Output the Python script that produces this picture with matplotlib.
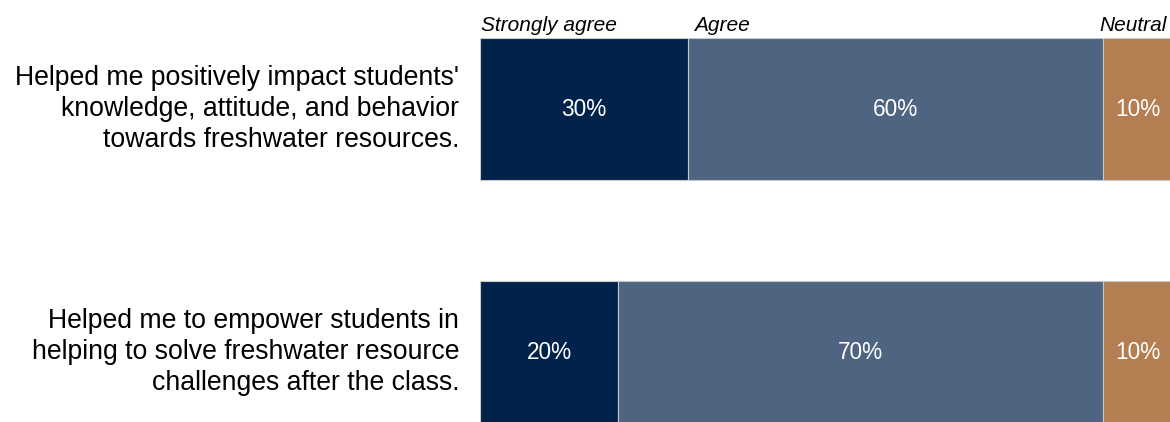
import numpy as np
import matplotlib.pyplot as plt
from matplotlib import font_manager

# Use the regular (not narrow) Liberation Sans files, the closest to Arial.
regular = None
italic = None
for f in font_manager.findSystemFonts():
    name = f.split("/")[-1]
    if name == "LiberationSans-Regular.ttf":
        regular = f
    elif name == "LiberationSans-Italic.ttf":
        italic = f

def font(size, italic_style=False):
    path = italic if italic_style else regular
    if path is None:
        return font_manager.FontProperties(family="DejaVu Sans", size=size, style="italic" if italic_style else "normal")
    return font_manager.FontProperties(fname=path, size=size)

# Survey statements and the share of answers in each category.
statements = [
    "Helped me positively impact students'\nknowledge, attitude, and behavior\ntowards freshwater resources.",
    "Helped me to empower students in\nhelping to solve freshwater resource\nchallenges after the class.",
]
categories = ["Strongly agree", "Agree", "Neutral"]
strongly_agree = [0.30, 0.20]
agree = [0.60, 0.70]
neutral = [0.10, 0.10]
colors = ["#01224A", "#4E6481", "#B37E51"]

fig = plt.figure(figsize=(11.7, 4.22), dpi=100)
ax = fig.add_axes([480 / 1170, 0, 692 / 1170, 384 / 422])

y = np.arange(len(statements))
left = np.zeros(len(statements))

# Stack the three answer categories along each bar.
for values, color in zip([strongly_agree, agree, neutral], colors):
    values = np.array(values)
    ax.barh(y, values, left=left, height=0.585, color=color, edgecolor="#C8C8C8", linewidth=0.8)
    for yi, l, v in zip(y, left, values):
        ax.text(l + v / 2, yi, f"{v:.0%}", ha="center", va="center", color="white", fontproperties=font(16.3))
    left = left + values

ax.set_xlim(0, 1)
ax.set_ylim(1.288, -0.2925)

# Category names sit above the first bar.
first = [strongly_agree[0], agree[0], neutral[0]]
ax.text(0.002, -0.345, categories[0], ha="left", va="center", fontproperties=font(15, True))
ax.text(first[0] + 0.009, -0.345, categories[1], ha="left", va="center", fontproperties=font(15, True))
ax.text(0.993, -0.345, categories[2], ha="right", va="center", fontproperties=font(15, True))

# Statements are written to the left of each bar.
for yi, s in zip(y, statements):
    ax.text(-0.03, yi, s, ha="right", va="center", fontproperties=font(19.2), linespacing=1.25,
            transform=ax.get_yaxis_transform())

ax.axis("off")
fig.savefig("out.png", dpi=100)
